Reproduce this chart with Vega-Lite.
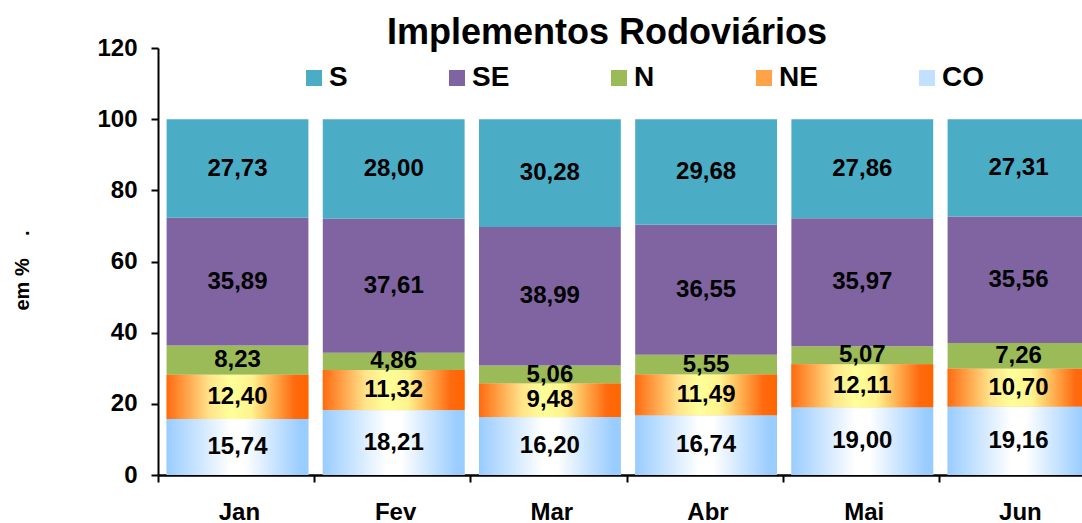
{
  "$schema": "https://vega.github.io/schema/vega-lite/v6.json",
  "autosize": {"type": "none"},
  "padding": {"left": 158, "top": 48, "right": 0, "bottom": 48},
  "width": 940,
  "height": 427,
  "background": "white",
  "title": {
    "text": "Implementos Rodoviários",
    "fontSize": 36,
    "fontWeight": "bold",
    "font": "Liberation Sans",
    "color": "black",
    "anchor": "middle",
    "baseline": "alphabetic",
    "dx": -21,
    "dy": 48,
    "offset": 4
  },
  "data": {
    "values": [
      {"month": "Jan", "region": "CO", "value": 15.74},
      {"month": "Jan", "region": "NE", "value": 12.40},
      {"month": "Jan", "region": "N", "value": 8.23},
      {"month": "Jan", "region": "SE", "value": 35.89},
      {"month": "Jan", "region": "S", "value": 27.73},
      {"month": "Fev", "region": "CO", "value": 18.21},
      {"month": "Fev", "region": "NE", "value": 11.32},
      {"month": "Fev", "region": "N", "value": 4.86},
      {"month": "Fev", "region": "SE", "value": 37.61},
      {"month": "Fev", "region": "S", "value": 28.00},
      {"month": "Mar", "region": "CO", "value": 16.20},
      {"month": "Mar", "region": "NE", "value": 9.48},
      {"month": "Mar", "region": "N", "value": 5.06},
      {"month": "Mar", "region": "SE", "value": 38.99},
      {"month": "Mar", "region": "S", "value": 30.28},
      {"month": "Abr", "region": "CO", "value": 16.74},
      {"month": "Abr", "region": "NE", "value": 11.49},
      {"month": "Abr", "region": "N", "value": 5.55},
      {"month": "Abr", "region": "SE", "value": 36.55},
      {"month": "Abr", "region": "S", "value": 29.68},
      {"month": "Mai", "region": "CO", "value": 19.00},
      {"month": "Mai", "region": "NE", "value": 12.11},
      {"month": "Mai", "region": "N", "value": 5.07},
      {"month": "Mai", "region": "SE", "value": 35.97},
      {"month": "Mai", "region": "S", "value": 27.86},
      {"month": "Jun", "region": "CO", "value": 19.16},
      {"month": "Jun", "region": "NE", "value": 10.70},
      {"month": "Jun", "region": "N", "value": 7.26},
      {"month": "Jun", "region": "SE", "value": 35.56},
      {"month": "Jun", "region": "S", "value": 27.31}
    ]
  },
  "transform": [
    {"stack": "value", "groupby": ["month"], "as": ["y0", "y1"]}
  ],
  "encoding": {
    "x": {
      "field": "month",
      "type": "nominal",
      "sort": ["Jan", "Fev", "Mar", "Abr", "Mai", "Jun"],
      "scale": {"paddingInner": 0.092, "paddingOuter": 0.055},
      "axis": {
        "title": null,
        "labelAngle": 0,
        "labelFont": "Liberation Sans",
        "labelFontSize": 24,
        "labelFontWeight": "bold",
        "labelColor": "black",
        "labelBaseline": "alphabetic",
        "labelPadding": 37,
        "bandPosition": 0,
        "tickOffset": -8.6,
        "labelOffset": 10,
        "tickSize": 7,
        "tickWidth": 2,
        "tickColor": "black",
        "domainWidth": 2.5,
        "domainColor": "black",
        "grid": false
      }
    },
    "y": {
      "field": "y0",
      "type": "quantitative",
      "scale": {"domain": [0, 120], "nice": false, "zero": true},
      "axis": {
        "title": "em %\u00a0\u00a0\u00a0\u00a0.",
        "titleFont": "Liberation Sans",
        "titleFontSize": 20,
        "titleFontWeight": "bold",
        "titleColor": "black",
        "titleX": -136,
        "titleY": 222,
        "titleAlign": "center",
        "titleBaseline": "middle",
        "values": [0, 20, 40, 60, 80, 100, 120],
        "labelFont": "Liberation Sans",
        "labelFontSize": 24,
        "labelFontWeight": "bold",
        "labelColor": "black",
        "labelPadding": 14,
        "labelBaseline": "middle",
        "tickSize": 7,
        "tickWidth": 2,
        "tickColor": "black",
        "domainWidth": 2,
        "domainColor": "black",
        "grid": false
      }
    },
    "y2": {"field": "y1"}
  },
  "layer": [
    {
      "mark": {"type": "bar", "strokeWidth": 0, "opacity": 1},
      "encoding": {
        "color": {
          "field": "region",
          "type": "nominal",
          "scale": {
            "domain": ["S", "SE", "N", "NE", "CO"],
            "range": ["#4BACC6", "#8064A2", "#9BBB59", "#FFA24A", "#C2E0FF"]
          },
          "legend": {
            "orient": "none",
            "legendX": 142,
            "legendY": 16,
            "direction": "horizontal",
            "title": null,
            "padding": 0,
            "symbolType": "square",
            "symbolSize": 256,
            "symbolStrokeWidth": 0,
            "symbolOpacity": 1,
            "labelFont": "Liberation Sans",
            "labelFontSize": 28,
            "labelFontWeight": "bold",
            "labelColor": "black",
            "labelOffset": 1,
            "columnPadding": 95
          }
        }
      }
    },
    {
      "transform": [{"filter": "datum.region === 'NE'"}],
      "mark": {
        "type": "bar",
        "strokeWidth": 0,
        "color": {"gradient": "linear", "x1": 0, "y1": 0, "x2": 1, "y2": 0,
          "stops": [
            {"offset": 0, "color": "#FF6A10"},
            {"offset": 0.3, "color": "#FFE38A"},
            {"offset": 0.45, "color": "#FFFF99"},
            {"offset": 0.6, "color": "#FFF38E"},
            {"offset": 0.9, "color": "#FF6A10"},
            {"offset": 1, "color": "#FF6600"}
          ]}
      }
    },
    {
      "transform": [{"filter": "datum.region === 'CO'"}],
      "mark": {
        "type": "bar",
        "strokeWidth": 0,
        "color": {"gradient": "linear", "x1": 0, "y1": 0, "x2": 1, "y2": 0,
          "stops": [
            {"offset": 0, "color": "#99CCFF"},
            {"offset": 0.45, "color": "#FFFFFF"},
            {"offset": 0.55, "color": "#FFFFFF"},
            {"offset": 0.95, "color": "#99CCFF"},
            {"offset": 1, "color": "#99CCFF"}
          ]}
      }
    },
    {
      "transform": [
        {"fold": ["y0", "y1"], "as": ["edge", "pos"]},
        {"aggregate": [
          {"op": "mean", "field": "pos", "as": "ymid"},
          {"op": "max", "field": "value", "as": "value"}
        ], "groupby": ["month", "region"]}
      ],
      "mark": {
        "type": "text",
        "font": "Liberation Sans",
        "fontSize": 24,
        "fontWeight": "bold",
        "color": "black",
        "align": "center",
        "baseline": "middle"
      },
      "encoding": {
        "y": {"field": "ymid", "type": "quantitative"},
        "y2": null,
        "text": {"field": "value", "type": "quantitative", "format": ".2f"}
      }
    }
  ],
  "config": {
    "view": {"stroke": null},
    "locale": {
      "number": {"decimal": ",", "thousands": ".", "grouping": [3], "currency": ["R$", ""]}
    }
  }
}
